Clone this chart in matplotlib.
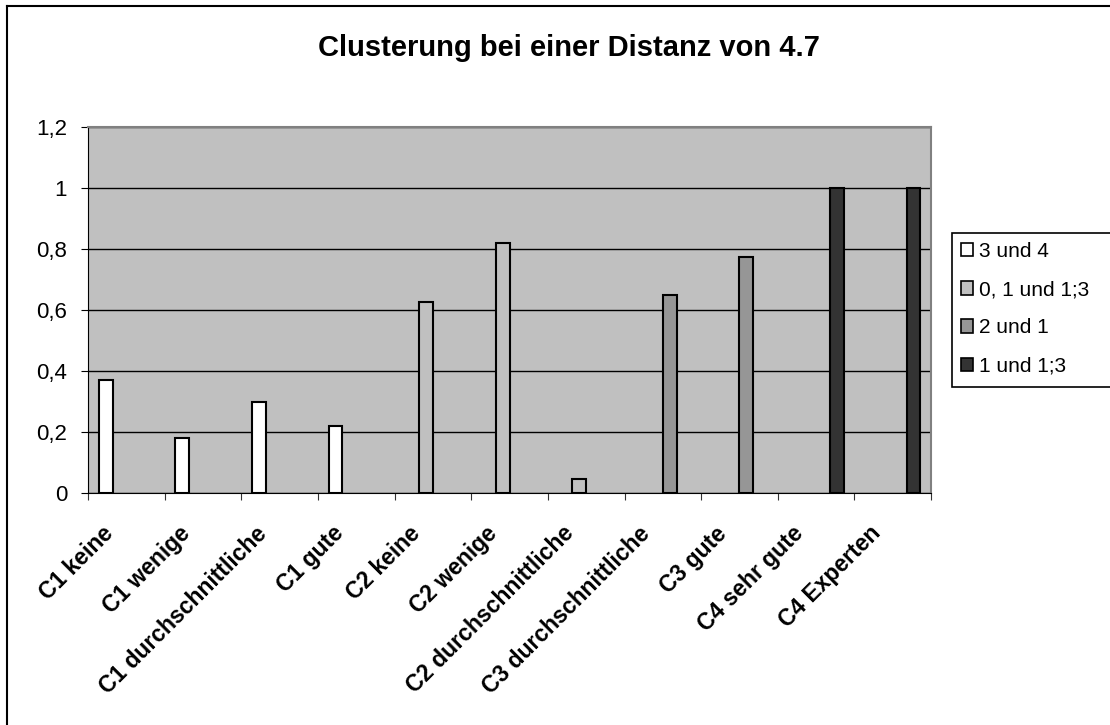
import numpy as np
import matplotlib.pyplot as plt
from matplotlib.patches import Patch, Rectangle
from matplotlib.lines import Line2D
from matplotlib.transforms import ScaledTranslation

plt.rcParams['font.family'] = ['Liberation Sans', 'DejaVu Sans']

categories = ["C1 keine", "C1 wenige", "C1 durchschnittliche", "C1 gute",
              "C2 keine", "C2 wenige", "C2 durchschnittliche",
              "C3 durchschnittliche", "C3 gute", "C4 sehr gute", "C4 Experten"]
series_names = ["3 und 4", "0, 1 und 1;3", "2 und 1", "1 und 1;3"]
series_3_4 = [0.37, 0.18, 0.30, 0.22, 0, 0, 0, 0, 0, 0, 0]
series_0_1 = [0, 0, 0, 0, 0.625, 0.82, 0.045, 0, 0, 0, 0]
series_2_1 = [0, 0, 0, 0, 0, 0, 0, 0.65, 0.775, 0, 0]
series_1_13 = [0, 0, 0, 0, 0, 0, 0, 0, 0, 1.0, 1.0]
y_ticks = [0, 0.2, 0.4, 0.6, 0.8, 1.0, 1.2]
y_labels = ["0", "0,2", "0,4", "0,6", "0,8", "1", "1,2"]

colors = ["#ffffff", "#c0c0c0", "#969696", "#333333"]

fig = plt.figure(figsize=(11.1, 7.25), dpi=100)
ax = fig.add_axes([0.0793, 0.32, 0.7595, 0.5048])
ax.set_facecolor("#c0c0c0")

x = np.arange(len(categories))
width = 0.18
all_series = [series_3_4, series_0_1, series_2_1, series_1_13]
for i, (vals, col) in enumerate(zip(all_series, colors)):
    offs = (i - 1.5) * width
    for xi, v in zip(x, vals):
        if v > 0:
            ax.bar(xi + offs, v, width=width, color=col, edgecolor="black",
                   linewidth=1.5, zorder=3)

ax.set_xlim(-0.5, len(categories) - 0.5)
ax.set_ylim(0, 1.2)
ax.set_yticks(y_ticks)
ax.set_yticklabels(y_labels, fontsize=16)
ax.yaxis.grid(True, color="black", linewidth=1.0, zorder=1)
ax.set_axisbelow(True)

# ticks on the slot boundaries, category names drawn separately
ax.set_xticks(np.arange(len(categories) + 1) - 0.5)
ax.set_xticklabels([])
ax.tick_params(axis="x", length=5, direction="out", color="#333333")
ax.tick_params(axis="y", length=5, direction="out", pad=10)

shift = ScaledTranslation(-0.16, -0.37, fig.dpi_scale_trans)
for xi, lab in zip(x, categories):
    ax.text(xi, 0, lab, transform=ax.get_xaxis_transform() + shift,
            rotation=45, rotation_mode="anchor", ha="right", va="center",
            fontsize=16.5, fontweight="bold")

for side in ["top", "right"]:
    ax.spines[side].set_color("#808080")
    ax.spines[side].set_linewidth(1.5)
ax.spines["left"].set_color("black")
ax.spines["bottom"].set_color("black")

fig.text(0.513, 0.934, "Clusterung bei einer Distanz von 4.7", ha="center",
         va="center", fontsize=21, fontweight="bold")

# legend box runs past the right edge of the chart
fig.add_artist(Rectangle((0.8577, 0.4662), 0.3, 0.2124, transform=fig.transFigure,
                         facecolor="white", edgecolor="black", linewidth=1.2,
                         zorder=1))
handles = [Patch(facecolor=c, edgecolor="black", linewidth=1.2, label=n)
           for c, n in zip(colors, series_names)]
leg = fig.legend(handles=handles, loc="upper left",
                 bbox_to_anchor=(0.857, 0.679),
                 fontsize=15, frameon=False, handlelength=0.6,
                 handleheight=0.6, handletextpad=0.3, labelspacing=0.92,
                 borderpad=0.45, borderaxespad=0)
leg.set_zorder(2)

# outer chart border (left and top edges)
fig.add_artist(Line2D([0.0065, 0.0065], [0, 0.992], color="black", linewidth=1.5,
                      transform=fig.transFigure))
fig.add_artist(Line2D([0.0065, 1.0], [0.992, 0.992], color="black", linewidth=1.5,
                      transform=fig.transFigure))

fig.savefig("out.png", dpi=100, facecolor="white")
